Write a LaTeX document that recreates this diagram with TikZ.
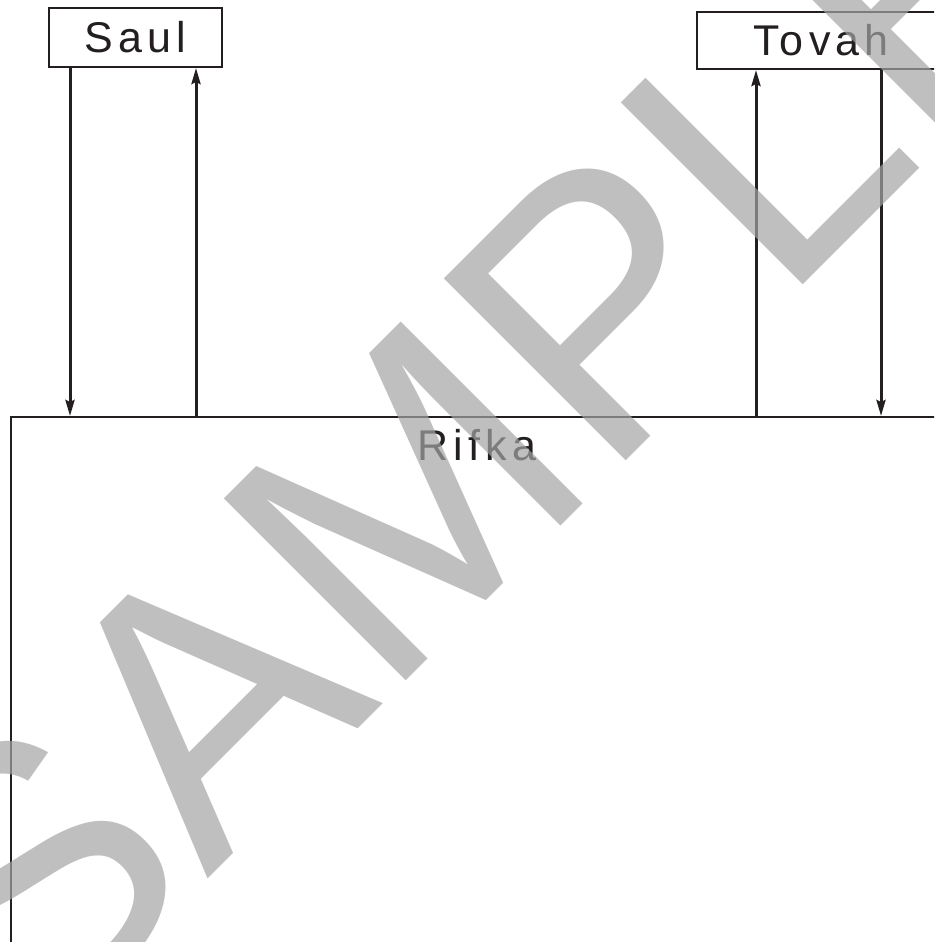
\documentclass[tikz,border=0pt]{standalone}
\usepackage{fontspec}
\setmainfont{Liberation Sans}
\newfontfamily\labelfont[LetterSpace=12]{Liberation Sans}
\newfontfamily\wmfont{Liberation Sans}
\usetikzlibrary{arrows.meta,calc}
\definecolor{ink}{RGB}{35,31,32}
\definecolor{wmgray}{RGB}{164,164,164}
\tikzset{
  personbox/.style={draw=ink, line width=2pt, inner sep=0pt, font=\labelfont\fontsize{43}{50}\selectfont, text=ink},
  bigbox/.style={draw=ink, line width=1.7pt, inner sep=0pt, anchor=north west},
  labeltext/.style={inner sep=0pt, font=\labelfont\fontsize{43}{50}\selectfont, text=ink},
  arr/.style={draw=ink, line width=3pt, -{Stealth[length=16pt,width=9pt,inset=2pt]}},
  watermark/.style={inner sep=0pt, text=wmgray, text opacity=0.7, font=\wmfont\fontsize{374}{374}\selectfont, rotate=45}
}
\begin{document}
\begin{tikzpicture}[x=1pt,y=1pt]
\useasboundingbox (0,0) rectangle (934,-942);
\clip (0,0) rectangle (934,-942);
\fill[white] (0,0) rectangle (934,-942);
% boxes
\node[personbox, minimum width=173pt, minimum height=59pt] (saul) at (135.5,-37.5) {Saul};
\node[personbox, minimum width=248pt, minimum height=57pt] (tovah) at (821,-40.5) {Tovah};
\node[bigbox, minimum width=934pt, minimum height=620pt] (rifka) at (10,-416) {};
\node[labeltext] (rifkalabel) at (477,-445) {Rifka};
% connector coordinates
\coordinate (s1) at ($(saul.south west)+(22,0)$);
\coordinate (s2) at ($(saul.south west)+(148,0)$);
\coordinate (t1) at ($(tovah.south west)+(60,0)$);
\coordinate (t2) at ($(tovah.south west)+(185,0)$);
\draw[arr] (s1) -- (s1 |- rifka.north);
\draw[arr] (s2 |- rifka.north) -- (s2);
\draw[arr] (t1 |- rifka.north) -- (t1);
\draw[arr] (t2) -- (t2 |- rifka.north);
% watermark
\node[watermark] (wm) at (477,-428) {SAMPLE};
\end{tikzpicture}
\end{document}
